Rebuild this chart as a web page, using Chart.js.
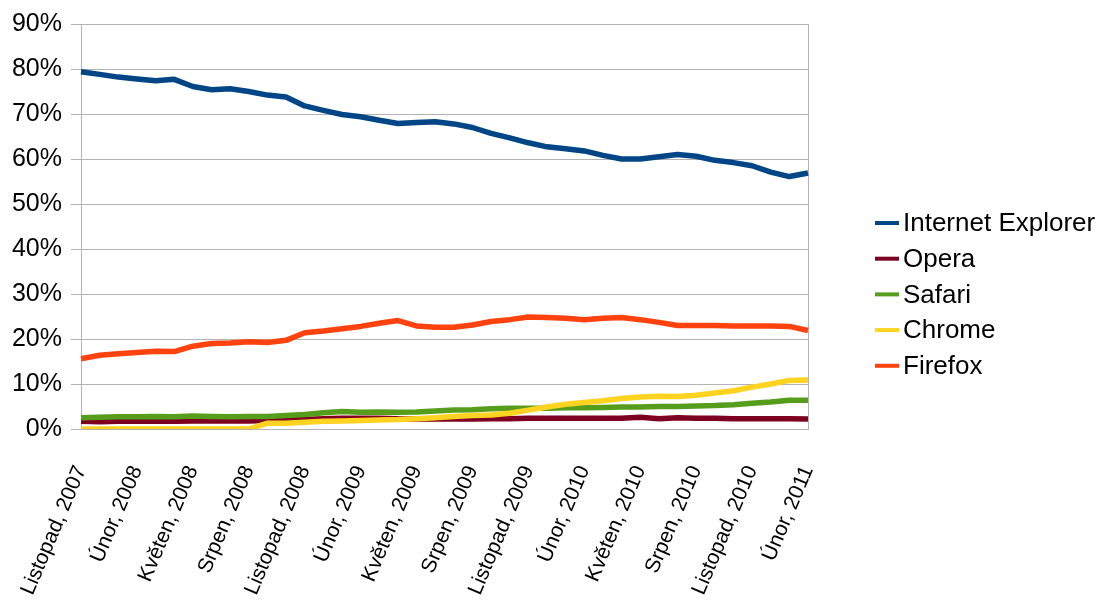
<!DOCTYPE html>
<html>
<head>
<meta charset="utf-8">
<script src="https://cdn.jsdelivr.net/npm/chart.js@4/dist/chart.umd.min.js"></script>
<style>
html, body { margin: 0; padding: 0; background: #fff; }
</style>
</head>
<body>
<canvas id="myChart" width="1100" height="607"></canvas>
<script>
var months = [
  "Listopad, 2007", "Prosinec, 2007", "Leden, 2008", "Únor, 2008", "Březen, 2008",
  "Duben, 2008", "Květen, 2008", "Červen, 2008", "Červenec, 2008", "Srpen, 2008",
  "Září, 2008", "Říjen, 2008", "Listopad, 2008", "Prosinec, 2008", "Leden, 2009",
  "Únor, 2009", "Březen, 2009", "Duben, 2009", "Květen, 2009", "Červen, 2009",
  "Červenec, 2009", "Srpen, 2009", "Září, 2009", "Říjen, 2009", "Listopad, 2009",
  "Prosinec, 2009", "Leden, 2010", "Únor, 2010", "Březen, 2010", "Duben, 2010",
  "Květen, 2010", "Červen, 2010", "Červenec, 2010", "Srpen, 2010", "Září, 2010",
  "Říjen, 2010", "Listopad, 2010", "Prosinec, 2010", "Leden, 2011", "Únor, 2011"
];

var ie = [79.4, 78.8, 78.2, 77.8, 77.4, 77.7, 76.1, 75.4, 75.6, 75.0,
  74.2, 73.8, 71.8, 70.8, 69.9, 69.4, 68.6, 67.9, 68.1, 68.3,
  67.8, 67.0, 65.7, 64.7, 63.6, 62.7, 62.3, 61.8, 60.8, 60.0,
  60.0, 60.5, 61.0, 60.6, 59.7, 59.2, 58.5, 57.1, 56.1, 56.9];
var opera = [1.7, 1.6, 1.7, 1.7, 1.7, 1.7, 1.8, 1.8, 1.8, 1.8,
  1.9, 2.0, 2.1, 2.3, 2.4, 2.4, 2.4, 2.3, 2.2, 2.2,
  2.2, 2.2, 2.3, 2.3, 2.4, 2.4, 2.4, 2.4, 2.4, 2.4,
  2.6, 2.3, 2.5, 2.4, 2.4, 2.3, 2.3, 2.3, 2.3, 2.2];
var safari = [2.5, 2.6, 2.7, 2.7, 2.8, 2.7, 2.9, 2.8, 2.7, 2.8,
  2.8, 3.0, 3.2, 3.6, 3.9, 3.7, 3.8, 3.7, 3.8, 4.0,
  4.2, 4.3, 4.5, 4.6, 4.6, 4.6, 4.7, 4.7, 4.8, 4.9,
  4.9, 5.0, 5.0, 5.1, 5.2, 5.4, 5.7, 6.0, 6.4, 6.4];
var chrome = [0, 0, 0, 0, 0, 0, 0, 0, 0, 0,
  1.3, 1.3, 1.5, 1.7, 1.8, 1.9, 2.0, 2.1, 2.3, 2.5,
  2.8, 3.0, 3.1, 3.5, 4.2, 4.9, 5.5, 5.9, 6.3, 6.8,
  7.1, 7.3, 7.2, 7.5, 8.0, 8.5, 9.3, 10.0, 10.8, 10.9];
var firefox = [15.6, 16.4, 16.7, 17.0, 17.3, 17.2, 18.4, 19.0, 19.1, 19.4,
  19.2, 19.7, 21.4, 21.8, 22.3, 22.8, 23.5, 24.1, 22.9, 22.6,
  22.6, 23.1, 23.9, 24.3, 24.9, 24.8, 24.6, 24.3, 24.6, 24.8,
  24.3, 23.7, 23.0, 23.0, 23.0, 22.9, 22.9, 22.9, 22.8, 21.9];

var names = ["Internet Explorer", "Opera", "Safari", "Chrome", "Firefox"];
var colors = ["#004586", "#7e0021", "#579d1c", "#ffd320", "#ff420e"];
var series = [ie, opera, safari, chrome, firefox];

var FONT = '"Liberation Sans", Arial, sans-serif';
var GRID = "#b3b3b3";

// legend on the right, drawn by hand so it sits where the original one is
var sideLegend = {
  id: "sideLegend",
  afterDraw: function (chart) {
    var c = chart.ctx;
    c.save();
    c.font = "26px " + FONT;
    c.textBaseline = "middle";
    c.textAlign = "left";
    chart.data.datasets.forEach(function (ds, i) {
      var y = 223 + i * 35.7;
      c.strokeStyle = ds.borderColor;
      c.lineWidth = 4;
      c.beginPath();
      c.moveTo(875, y);
      c.lineTo(899, y);
      c.stroke();
      c.fillStyle = "#000";
      c.fillText(ds.label, 903, y + 1);
    });
    c.restore();
  }
};

var datasets = series.map(function (d, i) {
  return {
    label: names[i],
    data: d,
    borderColor: colors[i],
    backgroundColor: colors[i],
    borderWidth: 5.5,
    pointRadius: 0,
    tension: 0,
    borderJoinStyle: "round",
    order: series.length - i
  };
});

var ctx = document.getElementById("myChart");
var myChart = new Chart(ctx, {
  type: "line",
  data: { labels: months, datasets: datasets },
  options: {
    responsive: false,
    animation: false,
    layout: { padding: { left: 0, right: 292, top: 22, bottom: 0 } },
    plugins: { legend: { display: false }, tooltip: { enabled: false } },
    scales: {
      x: {
        afterFit: function (s) {
          s.height = 178;
          s.paddingLeft = 0;
          s.paddingRight = 0;
        },
        grid: {
          drawTicks: false,
          color: function (c) {
            return (c.index === 0 || c.index === months.length - 1) ? GRID : "rgba(0,0,0,0)";
          }
        },
        border: { display: true, color: GRID },
        ticks: {
          autoSkip: false,
          maxRotation: 67,
          minRotation: 67,
          padding: 33,
          color: "#000",
          font: { family: FONT, size: 21 },
          callback: function (v, i) { return i % 3 === 0 ? months[i] : ""; }
        }
      },
      y: {
        min: 0,
        max: 90,
        afterFit: function (s) { s.width = 81; },
        grid: { color: GRID, tickLength: 10 },
        border: { display: true, color: GRID },
        ticks: {
          stepSize: 10,
          padding: 9,
          color: "#000",
          font: { family: FONT, size: 25 },
          callback: function (v) { return v + "%"; }
        }
      }
    }
  },
  plugins: [sideLegend]
});
</script>
</body>
</html>
